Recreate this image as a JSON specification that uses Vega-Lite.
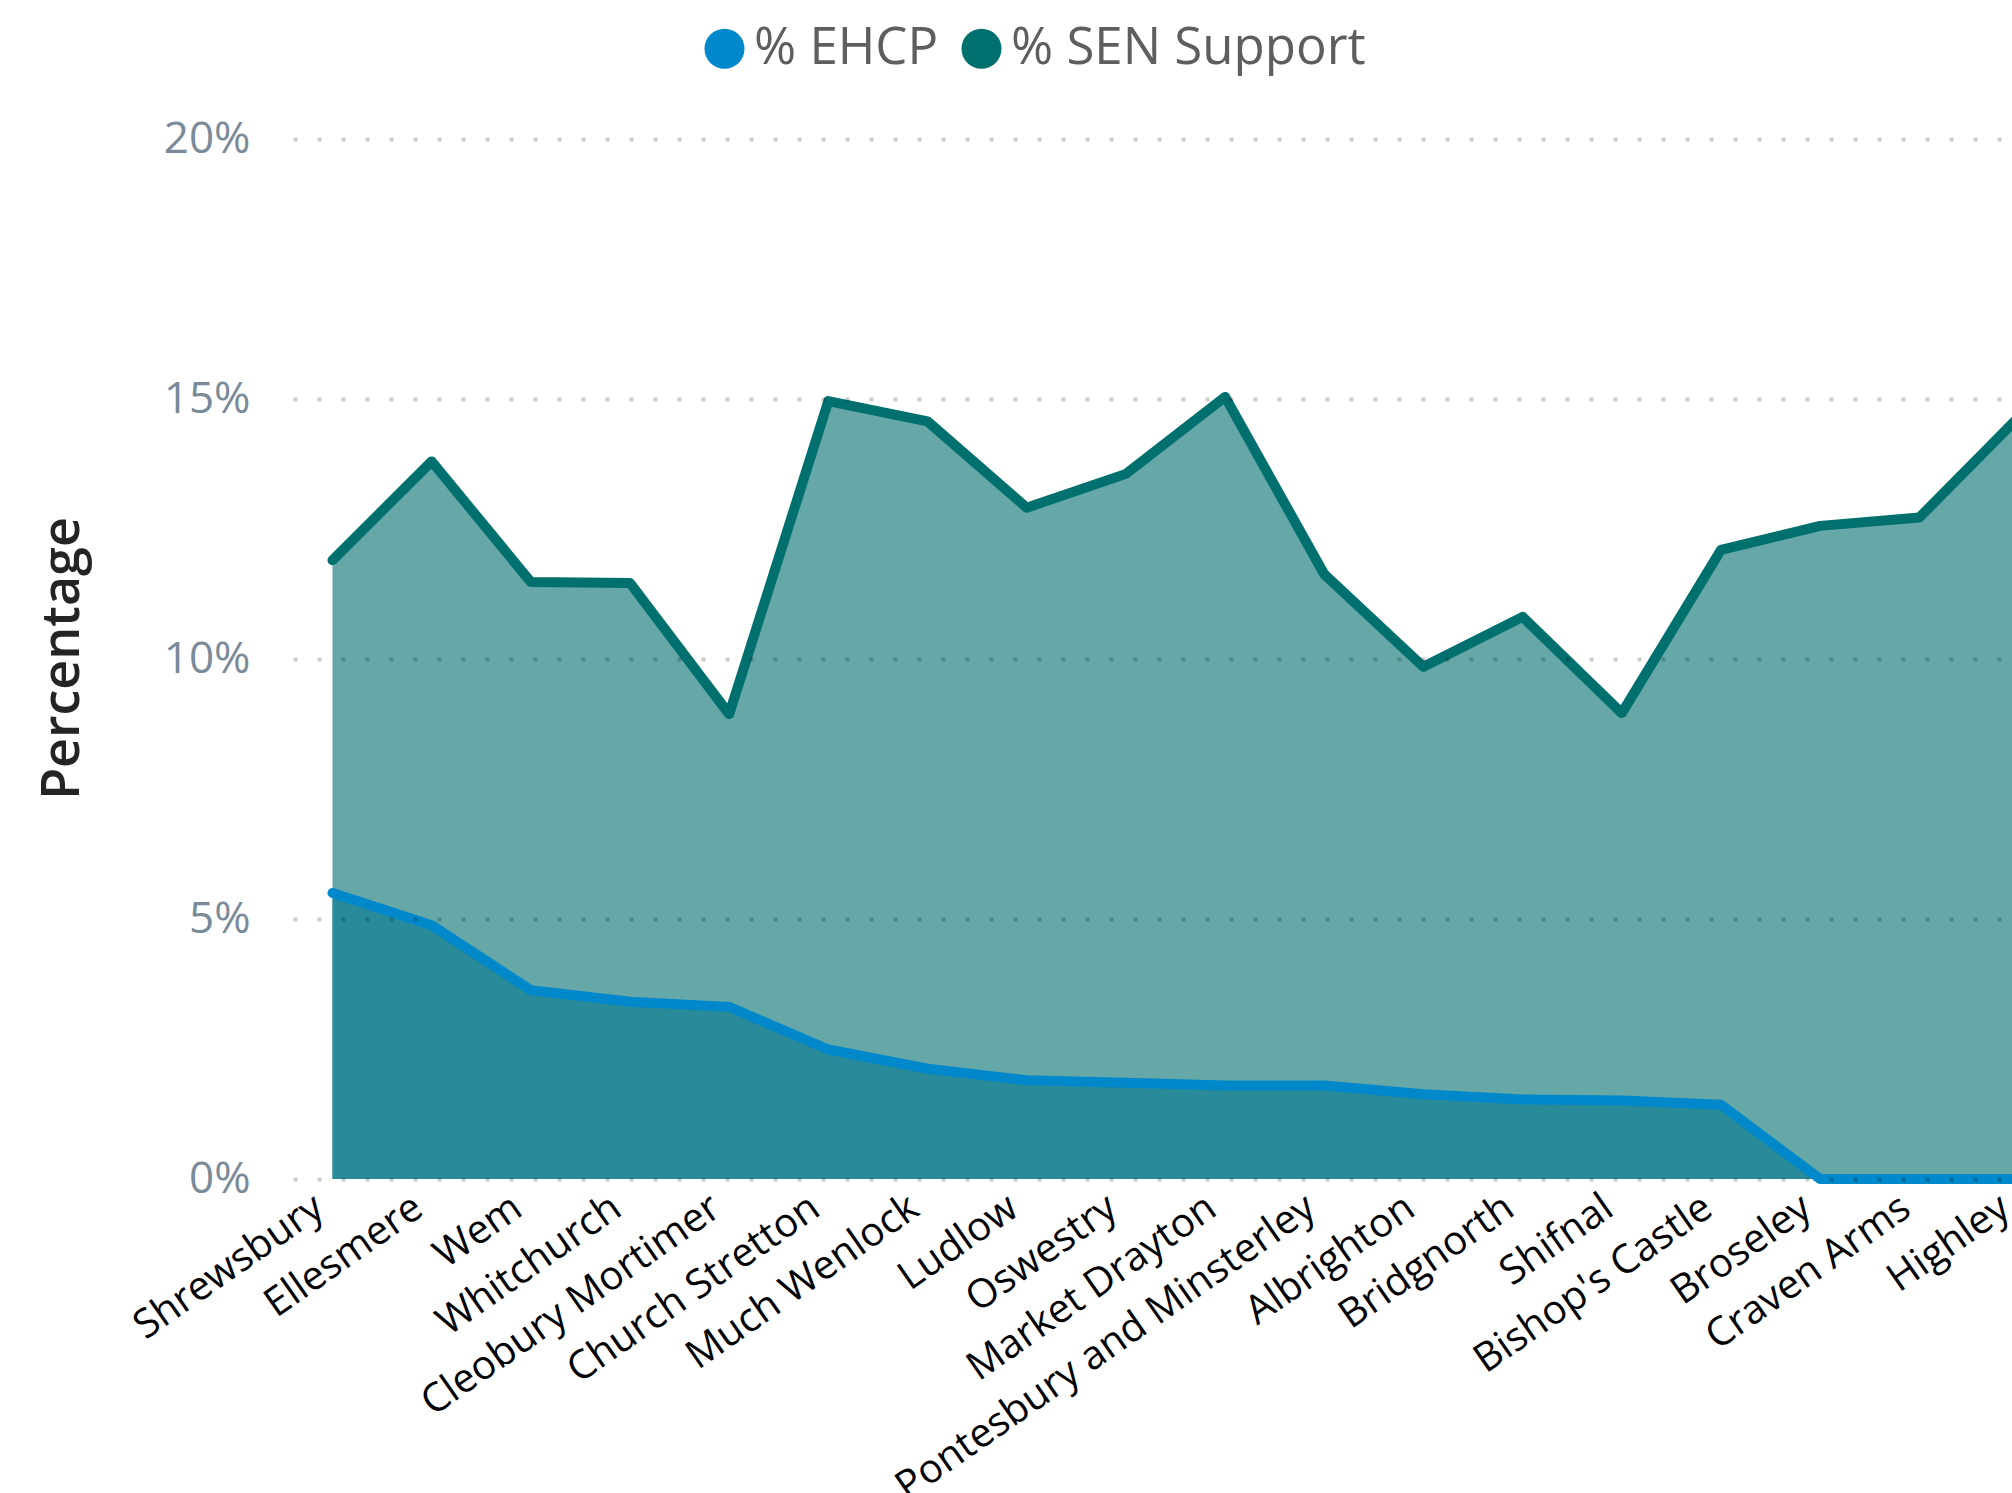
{
  "$schema": "https://vega.github.io/schema/vega-lite/v6.json",
  "width": 1719,
  "height": 1040,
  "autosize": {"type": "none"},
  "padding": {"left": 293, "top": 139, "right": 0, "bottom": 314},
  "config": {"view": {"stroke": null}, "font": "Open Sans"},
  "data": {
    "values": [
      {"town": "Shrewsbury", "measure": "% EHCP", "value": 5.5},
      {"town": "Shrewsbury", "measure": "% SEN Support", "value": 11.9},
      {"town": "Ellesmere", "measure": "% EHCP", "value": 4.88},
      {"town": "Ellesmere", "measure": "% SEN Support", "value": 13.8},
      {"town": "Wem", "measure": "% EHCP", "value": 3.63},
      {"town": "Wem", "measure": "% SEN Support", "value": 11.48},
      {"town": "Whitchurch", "measure": "% EHCP", "value": 3.41},
      {"town": "Whitchurch", "measure": "% SEN Support", "value": 11.46},
      {"town": "Cleobury Mortimer", "measure": "% EHCP", "value": 3.31},
      {"town": "Cleobury Mortimer", "measure": "% SEN Support", "value": 8.94},
      {"town": "Church Stretton", "measure": "% EHCP", "value": 2.49},
      {"town": "Church Stretton", "measure": "% SEN Support", "value": 14.96},
      {"town": "Much Wenlock", "measure": "% EHCP", "value": 2.12},
      {"town": "Much Wenlock", "measure": "% SEN Support", "value": 14.57},
      {"town": "Ludlow", "measure": "% EHCP", "value": 1.9},
      {"town": "Ludlow", "measure": "% SEN Support", "value": 12.91},
      {"town": "Oswestry", "measure": "% EHCP", "value": 1.85},
      {"town": "Oswestry", "measure": "% SEN Support", "value": 13.56},
      {"town": "Market Drayton", "measure": "% EHCP", "value": 1.8},
      {"town": "Market Drayton", "measure": "% SEN Support", "value": 15.04},
      {"town": "Pontesbury and Minsterley", "measure": "% EHCP", "value": 1.8},
      {"town": "Pontesbury and Minsterley", "measure": "% SEN Support", "value": 11.63},
      {"town": "Albrighton", "measure": "% EHCP", "value": 1.63},
      {"town": "Albrighton", "measure": "% SEN Support", "value": 9.85},
      {"town": "Bridgnorth", "measure": "% EHCP", "value": 1.53},
      {"town": "Bridgnorth", "measure": "% SEN Support", "value": 10.81},
      {"town": "Shifnal", "measure": "% EHCP", "value": 1.51},
      {"town": "Shifnal", "measure": "% SEN Support", "value": 8.96},
      {"town": "Bishop's Castle", "measure": "% EHCP", "value": 1.43},
      {"town": "Bishop's Castle", "measure": "% SEN Support", "value": 12.1},
      {"town": "Broseley", "measure": "% EHCP", "value": 0},
      {"town": "Broseley", "measure": "% SEN Support", "value": 12.56},
      {"town": "Craven Arms", "measure": "% EHCP", "value": 0},
      {"town": "Craven Arms", "measure": "% SEN Support", "value": 12.72},
      {"town": "Highley", "measure": "% EHCP", "value": 0},
      {"town": "Highley", "measure": "% SEN Support", "value": 14.65}
    ]
  },
  "encoding": {
    "x": {
      "field": "town",
      "type": "ordinal",
      "sort": null,
      "scale": {"type": "point", "range": [0, 1765], "padding": 0.398},
      "axis": {
        "title": null,
        "labelAngle": -35,
        "labelFontSize": 40,
        "labelColor": "#000000",
        "labelPadding": 8,
        "labelOffset": -25,
        "labelLimit": 0,
        "labelOverlap": false,
        "ticks": false,
        "domain": false,
        "grid": false
      }
    },
    "y": {
      "field": "value",
      "type": "quantitative",
      "scale": {"domain": [0, 20]},
      "axis": {
        "title": "Percentage",
        "titleFontSize": 52,
        "titleFontWeight": 600,
        "titleColor": "#252423",
        "titleX": -215,
        "titleY": 519,
        "titleAngle": -90,
        "titleAlign": "center",
        "titleBaseline": "alphabetic",
        "values": [0, 5, 10, 15, 20],
        "labelExpr": "datum.value + '%'",
        "labelFontSize": 44,
        "labelColor": "#7A8A99",
        "labelPadding": 43,
        "ticks": false,
        "tickSize": 0,
        "domain": false,
        "grid": true,
        "gridDash": [4, 20],
        "gridWidth": 4,
        "gridColor": "#000000",
        "gridOpacity": 0.2,
        "zindex": 1
      }
    }
  },
  "layer": [
    {
      "transform": [{"filter": "datum.measure === '% SEN Support'"}],
      "mark": {"type": "area", "color": "#66A8A8", "opacity": 1}
    },
    {
      "transform": [{"filter": "datum.measure === '% EHCP'"}],
      "mark": {"type": "area", "color": "#298B9A", "opacity": 1}
    },
    {
      "mark": {"type": "line", "strokeWidth": 10, "strokeCap": "round", "strokeJoin": "round"},
      "encoding": {
        "color": {
          "field": "measure",
          "type": "nominal",
          "scale": {"domain": ["% EHCP", "% SEN Support"], "range": ["#0088CA", "#00706E"]},
          "legend": {
            "orient": "none",
            "legendX": 406,
            "legendY": -116,
            "direction": "horizontal",
            "title": null,
            "symbolType": "circle",
            "symbolSize": 1600,
            "symbolStrokeWidth": 0,
            "labelFontSize": 51,
            "labelLimit": 0,
            "labelColor": "#605E5C",
            "labelOffset": 4,
            "columnPadding": 17,
            "encode": {
              "symbols": {"update": {"fill": {"scale": "color", "field": "value"}, "opacity": {"value": 1}}}
            }
          }
        }
      }
    }
  ]
}
